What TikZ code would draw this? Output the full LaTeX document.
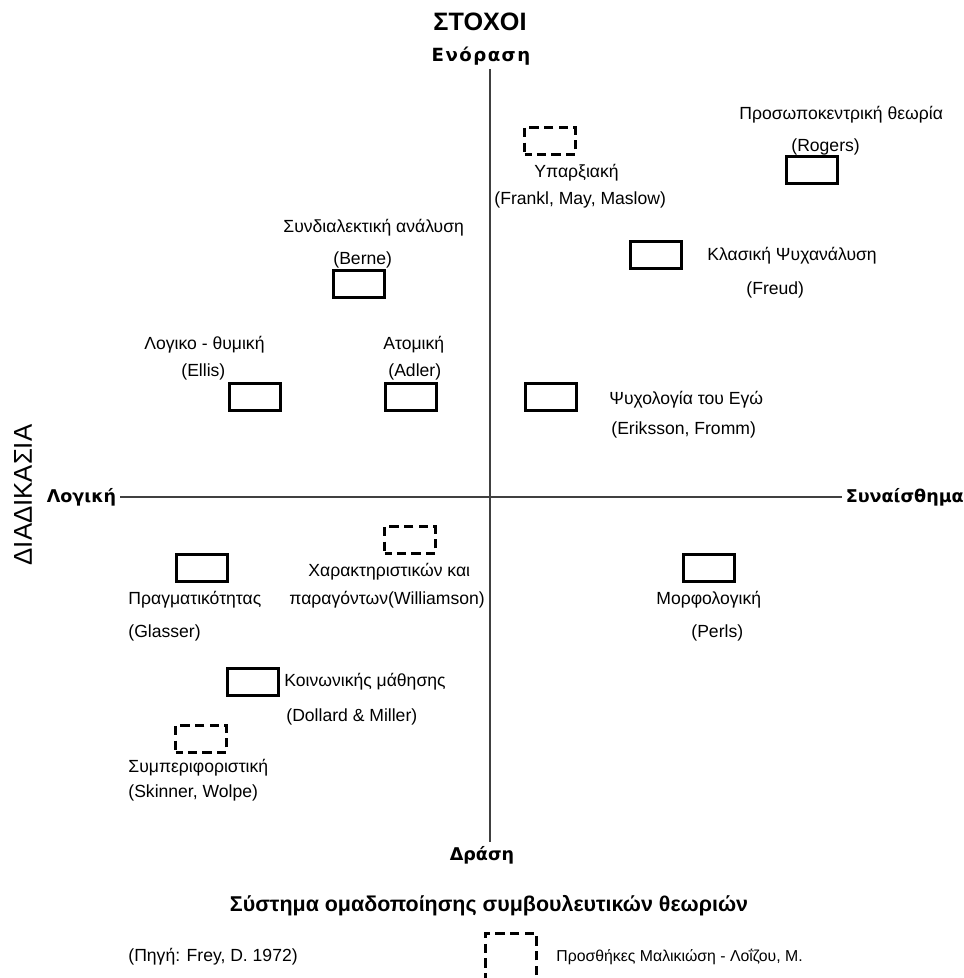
\documentclass[tikz,border=0pt]{standalone}
\usepackage{fontspec}
\setmainfont{Liberation Sans}
\newfontfamily\axisfont{DejaVu Sans}
\newfontfamily\wideaxisfont[LetterSpace=8]{DejaVu Sans}
\usetikzlibrary{positioning}

\begin{document}
\begin{tikzpicture}[
    x=0.03cm, y=-0.03cm,
    theory/.style={rectangle, draw, line width=2.7pt, minimum width=1.53cm, minimum height=0.81cm, inner sep=0pt},
    added/.style={theory, dash pattern=on 8pt off 4.5pt, dash phase=2pt},
    lbl/.style={font=\fontsize{15}{17}\selectfont, inner sep=1pt},
    pole/.style={font=\axisfont\bfseries\fontsize{15}{18}\selectfont, inner sep=3pt},
    axis/.style={line width=1.3pt, draw=black!75}
]
    \useasboundingbox (0,0) rectangle (964,978);

    % headings and poles
    \node[font=\bfseries\fontsize{21.5}{25}\selectfont] (stoxoi) at (480,22) {ΣΤΟΧΟΙ};
    \node[font=\fontsize{22}{26}\selectfont, rotate=90] (diadikasia) at (23,495) {ΔΙΑΔΙΚΑΣΙΑ};
    \node[pole, font=\wideaxisfont\bfseries\fontsize{15.5}{18}\selectfont] (enorasi) at (481,56) {Ενόραση};
    \node[pole] (drasi) at (482,855) {Δράση};
    \node[pole, anchor=east] (logiki) at (120,497) {Λογική};
    \node[pole, anchor=west] (synais) at (842,497) {Συναίσθημα};
    \coordinate (axisx) at (490,0);

    \draw[axis] (enorasi.south -| axisx) -- (drasi.north -| axisx);
    \draw[axis] (logiki) -- (synais);

    % theories
    \node[theory] (rogers) at (812,170) {};
    \node[added] (yparx) at (550,141) {};
    \node[theory] (berne) at (359,284) {};
    \node[theory] (freud) at (656,255) {};
    \node[theory] (ellis) at (255,397) {};
    \node[theory] (adler) at (411,397) {};
    \node[theory] (ego) at (551,397) {};
    \node[added] (willi) at (410,540) {};
    \node[theory] (glasser) at (202,568) {};
    \node[theory] (perls) at (709,568) {};
    \node[theory] (social) at (253,682) {};
    \node[added] (behav) at (201,739) {};

    \node[lbl, anchor=west] (rogersT) at (738,115) {Προσωποκεντρική θεωρία};
    \node[lbl, anchor=west] (rogersN) at (790,147) {(Rogers)};
    \node[lbl, anchor=west] (yparxT) at (533,173) {Υπαρξιακή};
    \node[lbl, anchor=west] (yparxN) at (493,200) {(Frankl, May, Maslow)};
    \node[lbl, anchor=west] (berneT) at (282,228) {Συνδιαλεκτική ανάλυση};
    \node[lbl, anchor=west] (berneN) at (332,260) {(Berne)};
    \node[lbl, anchor=west] (freudT) at (706,256) {Κλασική Ψυχανάλυση};
    \node[lbl, anchor=west] (freudN) at (745,290) {(Freud)};
    \node[lbl, anchor=west] (ellisT) at (143,345) {Λογικο - θυμική};
    \node[lbl, anchor=west] (ellisN) at (180,372) {(Ellis)};
    \node[lbl, anchor=west] (adlerT) at (382,345) {Ατομική};
    \node[lbl, anchor=west] (adlerN) at (387,372) {(Adler)};
    \node[lbl, anchor=west] (egoT) at (608,400) {Ψυχολογία του Εγώ};
    \node[lbl, anchor=west] (egoN) at (610,430) {(Eriksson, Fromm)};
    \node[lbl, anchor=west] (williT) at (307,572) {Χαρακτηριστικών και};
    \node[lbl, anchor=west] (williN) at (288,600) {παραγόντων(Williamson)};
    \node[lbl, anchor=west] (glasserT) at (127,600) {Πραγματικότητας};
    \node[lbl, anchor=west] (glasserN) at (127,633) {(Glasser)};
    \node[lbl, anchor=west] (perlsT) at (655,600) {Μορφολογική};
    \node[lbl, anchor=west] (perlsN) at (690,633) {(Perls)};
    \node[lbl, anchor=west] (socialT) at (283,682) {Κοινωνικής μάθησης};
    \node[lbl, anchor=west] (socialN) at (285,717) {(Dollard \& Miller)};
    \node[lbl, anchor=west] (behavT) at (127,768) {Συμπεριφοριστική};
    \node[lbl, anchor=west] (behavN) at (127,793) {(Skinner, Wolpe)};

    % title and legend
    \node[font=\bfseries\fontsize{18.3}{22}\selectfont] (title) at (489,906) {Σύστημα ομαδοποίησης συμβουλευτικών θεωριών};
    \node[lbl, anchor=west] (source) at (127,957) {(Πηγή: Frey, D. 1972)};
    \node[added, minimum height=1.4cm] (legend) at (511,957) {};
    \node[lbl, anchor=west, font=\fontsize{13.5}{16}\selectfont] (legendT) at (555,957) {Προσθήκες Μαλικιώση - Λοΐζου, Μ.};
\end{tikzpicture}
\end{document}
